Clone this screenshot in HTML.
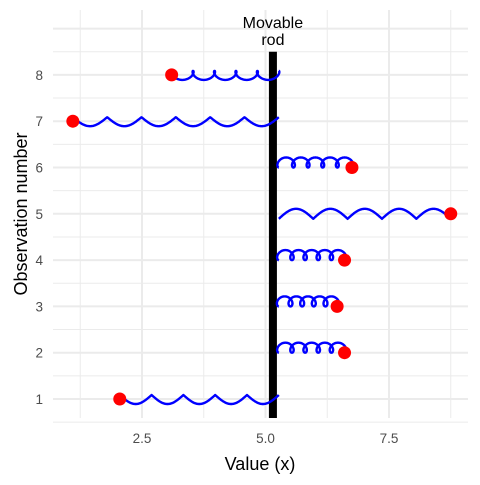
<!DOCTYPE html>
<html><head><meta charset="utf-8"><style>
body{margin:0;background:#fff}
svg text{font-family:"Liberation Sans",sans-serif}
</style></head><body>
<svg id="c" width="480" height="480" viewBox="0 0 480 480"></svg>
<script>
const obs = [1,2,3,4,5,6,7,8];
const values = [2.05,6.6,6.45,6.6,8.75,6.75,1.1,3.1];
const rodX = 5.15;
const xTicks = [2.5,5.0,7.5];
const xTickLabels = ["2.5","5.0","7.5"];
const yTicks = [1,2,3,4,5,6,7,8];
const X = v => 18.5 + v*49.4;
const Y = v => 399 - (v-1)*46.3;
const svg = document.getElementById('c');
const NS='http://www.w3.org/2000/svg';
function mk(t,a,p){const e=document.createElementNS(NS,t);for(const k in a)e.setAttribute(k,a[k]);(p||svg).appendChild(e);return e;}
const px0=53, px1=468, py0=10, py1=418;
const grid=mk('g',{});


[1.25,3.75,6.25,8.75].forEach(v=>mk('line',{x1:X(v),x2:X(v),y1:py0,y2:py1,stroke:'#ebebeb','stroke-width':1},grid));
xTicks.forEach(v=>mk('line',{x1:X(v),x2:X(v),y1:py0,y2:py1,stroke:'#ebebeb','stroke-width':2},grid));
[0.5,1.5,2.5,3.5,4.5,5.5,6.5,7.5,8.5].forEach(v=>mk('line',{x1:px0,x2:px1,y1:Y(v),y2:Y(v),stroke:'#ebebeb','stroke-width':1},grid));
yTicks.concat([9]).forEach(v=>mk('line',{x1:px0,x2:px1,y1:Y(v),y2:Y(v),stroke:'#ebebeb','stroke-width':2},grid));
xTicks.forEach((v,i)=>{const t=mk('text',{x:X(v),y:443,'text-anchor':'middle','font-size':13.5,fill:'#4d4d4d'});t.textContent=xTickLabels[i];

});
yTicks.forEach(v=>{const t=mk('text',{x:43,y:Y(v)+5,'text-anchor':'end','font-size':13.5,fill:'#4d4d4d'});t.textContent=v;

});
let t=mk('text',{x:260,y:470,'text-anchor':'middle','font-size':18,fill:'#000'});t.textContent='Value (x)';


t=mk('text',{x:27,y:214,'text-anchor':'middle','font-size':18,fill:'#000',transform:'rotate(-90 27 214)'});t.textContent='Observation number';


const rod=mk('rect',{x:X(rodX)-4,y:Y(8.5),width:8,height:py1-Y(8.5),fill:'#000'});


t=mk('text',{x:X(rodX),y:28,'text-anchor':'middle','font-size':16,fill:'#000'});t.textContent='Movable';


t=mk('text',{x:X(rodX),y:45,'text-anchor':'middle','font-size':16,fill:'#000'});t.textContent='rod';


obs.forEach((o,i)=>{
  const v=values[i], y0=Y(o);
  const endX=X(rodX+0.12), startX=X(v);
  const L=endX-startX, AL=Math.abs(L), s=Math.sign(L);
  let d='';
  if(AL<120){
    const n=5, T=n*2*Math.PI, R=4.5;
    for(let k=0;k<=400;k++){const u=k/400, tt=T*u;
      const x=startX+L*u - s*R*Math.sin(tt);
      const y = L<0 ? y0-5+5*Math.cos(tt) : y0+0.5-4.5*Math.cos(tt);
      d+=(k?'L':'M')+x.toFixed(1)+','+y.toFixed(1);}
  } else {
    const n=Math.round(AL/35);
    for(let k=0;k<=400;k++){const u=k/400;
      const f=(u*n)%1;
      const x=startX+L*u;
      const y = L<0 ? y0+5-10*Math.sin(Math.PI*f) : y0-4+9*Math.sin(Math.PI*f);
      d+=(k?'L':'M')+x.toFixed(1)+','+y.toFixed(1);}
  }
  const p=mk('path',{d:d,fill:'none',stroke:'#0000ff','stroke-width':2.4,'stroke-linejoin':'round'});
  
  
  const c=mk('circle',{cx:startX,cy:y0,r:6.5,fill:'#ff0000'});
  
  
});
</script>
</body></html>
